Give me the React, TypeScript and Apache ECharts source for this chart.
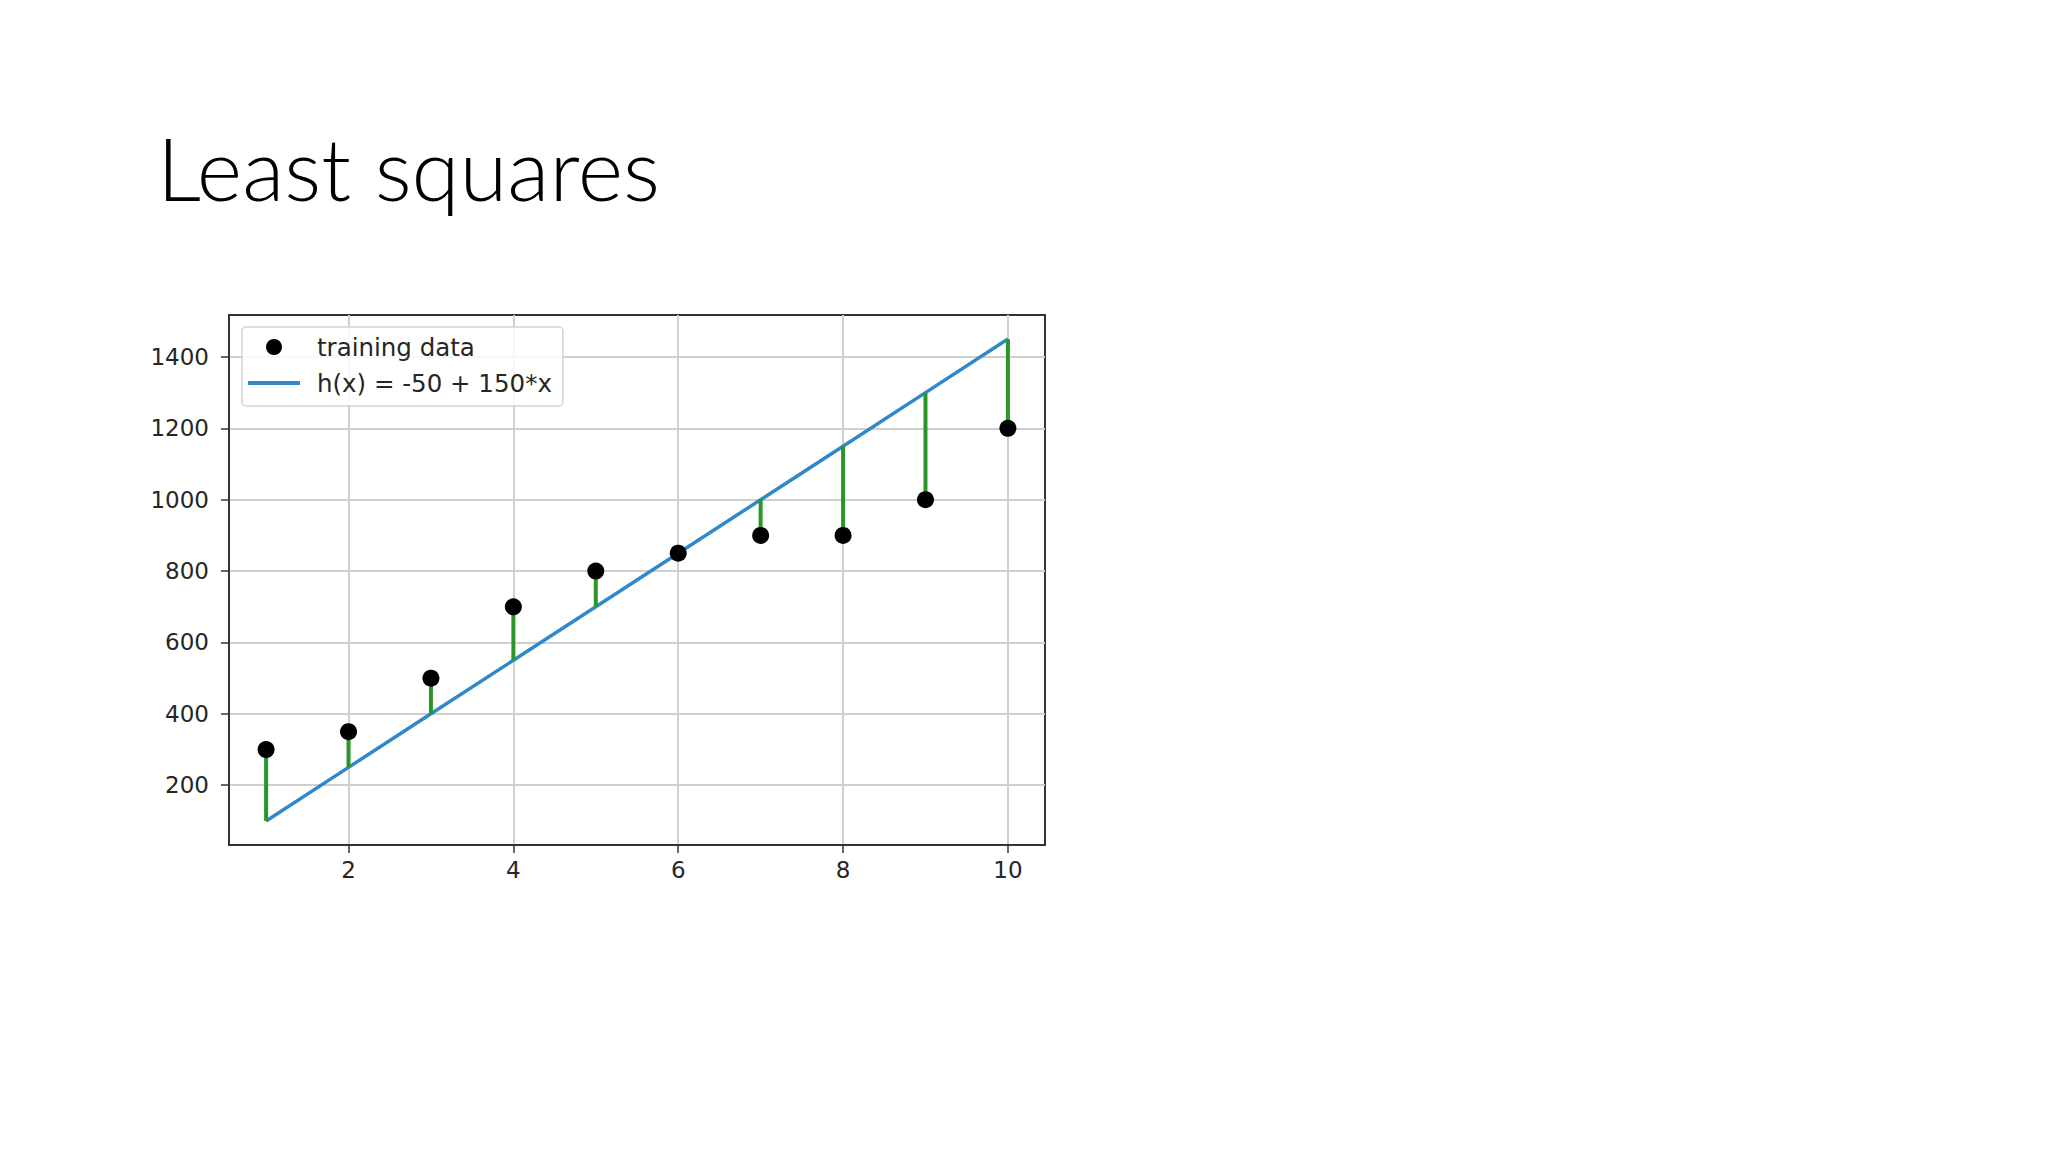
import { useEffect, useRef } from 'react'
import * as echarts from 'echarts'

// data
const xValues = [1, 2, 3, 4, 5, 6, 7, 8, 9, 10]
const trainingY = [300, 350, 500, 700, 800, 850, 900, 900, 1000, 1200]
const fitY = [100, 250, 400, 550, 700, 850, 1000, 1150, 1300, 1450]
const xTicks = [2, 4, 6, 8, 10]
const yTicks = [200, 400, 600, 800, 1000, 1200, 1400]
const xRange = [0.55, 10.45]
const yRange = [32.5, 1517.5]
const trainingLabel = 'training data'
const fitLabel = 'h(x) = -50 + 150*x'
const slideTitle = 'Least squares'

const tickFont = 'DejaVu Sans'
const axisColor = '#262626'
const lineBlue = '#3188c9'

export default function App() {
  const chartRef = useRef<HTMLDivElement>(null)

  useEffect(() => {
    if (!chartRef.current) return
    const chart = echarts.init(chartRef.current, undefined, { renderer: 'svg' })

    const option = {
      animation: false,
      backgroundColor: '#ffffff',
      title: {
        text: slideTitle,
        left: 157,
        top: 124,
        padding: 0,
        textStyle: {
          fontFamily: 'Lato',
          fontWeight: 300,
          fontSize: 87,
          color: '#000000',
        },
      },
      legend: {
        orient: 'vertical',
        left: 242,
        top: 327,
        padding: [7, 11, 10, 6],
        itemWidth: 52,
        itemHeight: 16,
        itemGap: 10,
        backgroundColor: 'rgba(255,255,255,0.85)',
        borderColor: '#d4d4d4',
        borderWidth: 1.5,
        borderRadius: 4,
        textStyle: {
          fontFamily: tickFont,
          fontSize: 24.5,
          lineHeight: 26,
          color: axisColor,
          padding: [0, 0, 0, 12],
        },
        data: [
          { name: trainingLabel, icon: 'circle' },
          {
            name: fitLabel,
            // thin bar in a 52x16 box, drawn like a line sample
            icon: 'path://M0,0h0.01v16h-0.01z M0,6h52v4h-52z',
            itemStyle: { color: lineBlue },
          },
        ],
      },
      grid: {
        left: 229,
        top: 315,
        width: 816,
        height: 530,
        show: true,
        borderColor: '#333333',
        borderWidth: 2,
      },
      xAxis: {
        type: 'value',
        min: xRange[0],
        max: xRange[1],
        axisLine: { show: true, onZero: false, lineStyle: { color: '#333333', width: 2 } },
        axisTick: {
          show: true,
          length: 8,
          customValues: xTicks,
          lineStyle: { color: '#333333', width: 1.5 },
        },
        axisLabel: {
          customValues: xTicks,
          margin: 13,
          fontFamily: tickFont,
          fontSize: 23,
          color: axisColor,
          formatter: (v: number) => String(v),
        },
        splitLine: { show: true, lineStyle: { color: '#cfcfcf', width: 2 } },
      },
      yAxis: {
        type: 'value',
        min: yRange[0],
        max: yRange[1],
        axisLine: { show: true, onZero: false, lineStyle: { color: '#333333', width: 2 } },
        axisTick: {
          show: true,
          length: 8,
          customValues: yTicks,
          lineStyle: { color: '#333333', width: 1.5 },
        },
        axisLabel: {
          customValues: yTicks,
          margin: 20,
          fontFamily: tickFont,
          fontSize: 23,
          color: axisColor,
          formatter: (v: number) => String(v),
        },
        splitLine: { show: true, lineStyle: { color: '#cfcfcf', width: 2 } },
      },
      series: [
        {
          name: fitLabel,
          type: 'line',
          data: xValues.map((x, i) => [x, fitY[i]]),
          symbol: 'none',
          showSymbol: false,
          lineStyle: { color: lineBlue, width: 3.5 },
          itemStyle: { color: lineBlue },
          z: 2,
        },
        {
          name: 'residuals',
          type: 'custom',
          data: xValues.map((x, i) => [x, trainingY[i], fitY[i]]),
          encode: { x: 0, y: [1, 2] },
          renderItem: (_params: any, api: any) => {
            const top = api.coord([api.value(0), api.value(1)])
            const bottom = api.coord([api.value(0), api.value(2)])
            return {
              type: 'line',
              shape: { x1: top[0], y1: top[1], x2: bottom[0], y2: bottom[1] },
              style: { stroke: '#2a962a', lineWidth: 4 },
            }
          },
          z: 3,
        },
        {
          name: trainingLabel,
          type: 'scatter',
          data: xValues.map((x, i) => [x, trainingY[i]]),
          symbol: 'circle',
          symbolSize: 17,
          itemStyle: { color: '#000000', opacity: 1 },
          z: 4,
        },
      ],
    }

    chart.setOption(option)

    return () => {
      chart.dispose()
    }
  }, [])

  return (
    <div
      ref={chartRef}
      style={{ position: 'absolute', left: 0, top: 0, width: 2048, height: 1152 }}
    />
  )
}
